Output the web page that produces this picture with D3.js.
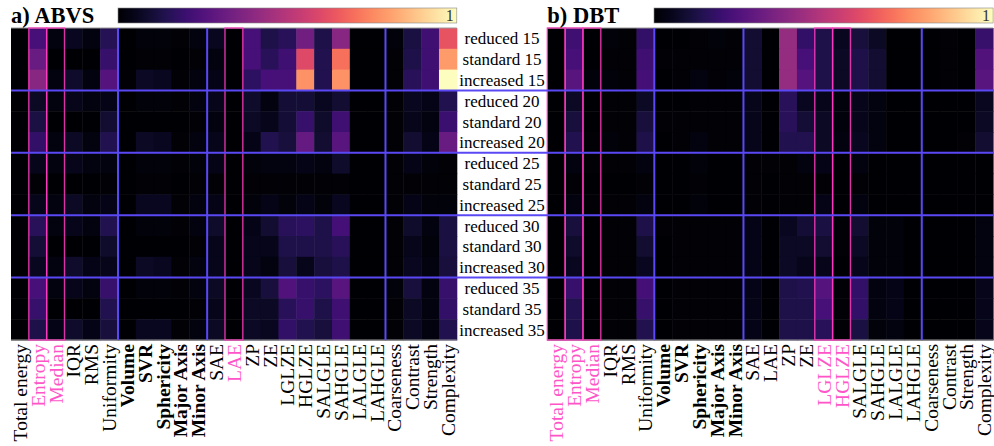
<!DOCTYPE html>
<html>
<head>
<meta charset="utf-8">
<script src="https://cdn.jsdelivr.net/npm/d3@7"></script>
<style>
  html, body { margin: 0; padding: 0; background: #fff; }
  svg { display: block; font-family: "Liberation Serif", "Times New Roman", serif; }
</style>
</head>
<body>
<svg id="chart" width="994" height="446"></svg>
<script>
// feature names (columns) and protocol rows
const features = ['Total energy', 'Entropy', 'Median', 'IQR', 'RMS', 'Uniformity',
  'Volume', 'SVR', 'Sphericity', 'Major Axis', 'Minor Axis',
  'SAE', 'LAE', 'ZP', 'ZE', 'LGLZE', 'HGLZE', 'SALGLE', 'SAHGLE', 'LALGLE', 'LAHGLE',
  'Coarseness', 'Contrast', 'Strength', 'Complexity'];
const boldFeatures = ['Volume', 'SVR', 'Sphericity', 'Major Axis', 'Minor Axis'];
const rowLabels = ['reduced 15', 'standard 15', 'increased 15',
  'reduced 20', 'standard 20', 'increased 20',
  'reduced 25', 'standard 25', 'increased 25',
  'reduced 30', 'standard 30', 'increased 30',
  'reduced 35', 'standard 35', 'increased 35'];
// features starting a new group get a blue separator
const groupStarts = ['Volume', 'SAE', 'Coarseness'];
const pinkA = ['Entropy', 'Median', 'LAE'];
const pinkB = ['Total energy', 'Entropy', 'Median', 'LGLZE', 'HGLZE'];

const abvs = [
  [0,.23,.03,.06,.03,.15,0,.02,.02,.01,.03,.06,0,.23,.13,.16,.33,.13,.39,0,0,.02,.12,.21,.63],
  [0,.31,0,0,0,.19,0,.01,.01,0,.01,.03,0,.23,.16,.21,.60,.14,.70,0,0,.01,.13,.21,.79],
  [0,.39,.03,.08,.03,.26,.01,.07,.06,.01,.03,.04,0,.17,.23,.23,.77,.14,.77,0,0,.01,.16,.21,1],
  [0,.07,.03,.05,.03,.04,0,.02,.02,.01,.03,.05,0,.08,.03,.10,.10,.06,.09,0,0,.01,.06,.04,.14],
  [0,.12,0,0,0,.09,0,0,0,0,.01,.03,0,.07,.05,.10,.19,.08,.21,0,0,.01,.05,.03,.20],
  [0,.18,.03,.07,.03,.14,0,.07,.06,.01,.03,.05,0,.04,.14,.11,.30,.09,.27,0,0,.01,.09,.04,.31],
  [0,.05,.03,.05,.03,.03,0,.02,.02,.01,.02,.04,0,.02,.03,.03,.04,.03,.08,0,0,.01,.04,.02,.01],
  [0,.01,0,0,0,.01,0,.01,.01,0,.01,.01,0,.01,.01,.01,.01,.01,.01,0,0,.01,.01,.01,.01],
  [0,.05,.03,.07,.03,.04,0,.06,.06,.01,.03,.04,0,.02,.04,.02,.04,.02,.06,0,0,.01,.04,.02,.02],
  [0,.16,.03,.05,.03,.14,0,.02,.02,.01,.03,.08,0,.04,.09,.16,.17,.13,.22,0,0,.01,.08,.03,.12],
  [0,.10,0,0,0,.08,0,0,0,0,.01,.05,0,.05,.05,.13,.13,.13,.16,0,0,.01,.05,.02,.12],
  [0,.06,.03,.08,.04,.05,0,.07,.06,.01,.03,.05,0,.05,.03,.11,.05,.11,.13,0,0,.01,.06,.03,.11],
  [0,.23,.03,.05,.03,.19,0,.02,.02,.01,.03,.07,0,.06,.11,.25,.19,.17,.27,0,0,.02,.11,.03,.19],
  [0,.19,0,0,0,.14,0,0,0,0,.01,.05,0,.07,.07,.16,.19,.13,.21,0,0,.01,.07,.03,.18],
  [0,.13,.04,.08,.04,.11,0,.06,.06,.01,.03,.07,0,.07,.06,.18,.14,.11,.21,0,0,.01,.07,.03,.14]
];

const dbt = [
  [0,.21,0,.02,.01,.18,0,0,.01,.02,.01,.09,0,.42,.18,.13,.06,.11,.07,0,0,0,.01,0,.19],
  [0,.23,0,.01,.01,.21,.01,.01,.01,.01,.01,.09,0,.42,.23,.13,.07,.13,.09,0,0,0,.01,0,.25],
  [0,.27,.02,.02,.01,.22,0,.01,.03,.01,.02,.09,0,.42,.26,.13,.07,.13,.09,0,0,0,.01,0,.27],
  [0,.07,0,.01,.01,.07,0,0,.01,.01,.01,.05,0,.16,.06,.05,.02,.05,.03,0,0,0,0,0,.06],
  [0,.11,0,.01,.01,.11,.01,.01,.01,.01,.01,.05,0,.16,.10,.07,.02,.05,.03,0,0,0,0,0,.07],
  [0,.14,.01,.02,.01,.13,0,.01,.03,.01,.01,.05,0,.14,.14,.07,.03,.06,.03,0,0,0,0,.01,.09],
  [0,.03,.01,.01,.01,.03,0,0,.02,0,0,.01,.01,.01,.03,.04,0,.03,0,0,0,0,0,0,0],
  [0,.01,0,0,0,.01,0,0,.01,0,0,.01,0,.01,.01,.01,0,.01,0,0,0,0,0,0,0],
  [0,.03,.01,.01,.01,.03,0,0,.02,0,0,.01,0,.01,.01,.04,0,.03,0,0,0,0,0,0,0],
  [0,.11,0,.01,.01,.13,.01,.01,.01,.01,.01,.04,0,.06,.10,.12,.01,.09,.02,.02,0,0,0,0,.03],
  [0,.08,0,.01,.01,.09,0,.01,.01,.01,.01,.04,0,.07,.07,.09,.01,.07,.02,.02,0,0,0,0,.03],
  [0,.06,0,.01,.01,.06,0,.01,.01,.01,.01,.04,0,.07,.05,.05,0,.05,.02,.02,0,0,0,0,.03],
  [0,.19,0,.01,.01,.22,0,.01,.01,.01,.01,.04,0,.13,.14,.26,.01,.18,.03,.04,0,0,0,0,.05],
  [0,.14,0,.01,.01,.19,0,.01,.01,.01,.01,.04,0,.13,.13,.23,.01,.18,.03,.04,0,0,0,0,.05],
  [0,.13,0,.01,.01,.14,0,.01,.01,.01,.01,.04,0,.13,.13,.16,.01,.12,.02,.03,0,0,0,0,.05]
];

const svg = d3.select('#chart');
const yTop = 28, yBottom = 340;
const blue = '#5a48f5';
const pink = '#ff3cbf';
const pinkText = '#ff55c8';
const color = d3.scaleSequential(d3.interpolateMagma).domain([0, 1]);

const y = d3.scaleBand()
  .domain(rowLabels)
  .range([yTop, yBottom]);

// gradient for both colorbars
const grad = svg.append('defs').append('linearGradient')
  .attr('id', 'magma');
d3.range(0, 1.0001, 0.05).forEach(t => {
  grad.append('stop')
    .attr('offset', (t * 100) + '%')
    .attr('stop-color', color(t));
});

function drawPanel(data, left, right, title, barLeft, pinkCols) {
  const x = d3.scaleBand()
    .domain(features)
    .range([left, right]);
  const g = svg.append('g');

  data.forEach((row, i) => {
    g.selectAll(null)
      .data(row)
      .enter().append('rect')
      .attr('x', (d, j) => x(features[j]))
      .attr('y', y(rowLabels[i]))
      .attr('width', x.bandwidth() + 0.5)
      .attr('height', y.bandwidth() + 0.5)
      .attr('fill', d => color(d));
  });

  // frame top and bottom
  g.append('line')
    .attr('x1', left).attr('x2', right)
    .attr('y1', yTop).attr('y2', yTop)
    .attr('stroke', '#999').attr('stroke-width', 1);
  g.append('line')
    .attr('x1', left).attr('x2', right)
    .attr('y1', yBottom).attr('y2', yBottom)
    .attr('stroke', '#999').attr('stroke-width', 1.2);

  // group separators
  groupStarts.forEach(f => {
    g.append('line')
      .attr('x1', x(f)).attr('x2', x(f))
      .attr('y1', yTop).attr('y2', yBottom)
      .attr('stroke', blue)
      .attr('stroke-width', 2);
  });

  // highlighted features
  pinkCols.forEach(f => {
    g.append('rect')
      .attr('x', x(f))
      .attr('y', yTop)
      .attr('width', x.bandwidth())
      .attr('height', yBottom - yTop)
      .attr('fill', 'none')
      .attr('stroke', pink)
      .attr('stroke-opacity', 0.85)
      .attr('stroke-width', 1.4);
  });

  // feature labels
  g.selectAll(null)
    .data(features)
    .enter().append('text')
    .attr('transform', d => `translate(${x(d) + x.bandwidth() / 2},344) rotate(-90)`)
    .attr('dy', '0.36em')
    .attr('text-anchor', 'end')
    .attr('font-size', '19.5px')
    .attr('font-weight', d => boldFeatures.includes(d) ? 'bold' : 'normal')
    .attr('fill', d => pinkCols.includes(d) ? pinkText : '#000')
    .text(d => d);

  // title
  g.append('text')
    .attr('x', left)
    .attr('y', 23)
    .attr('font-size', '22.5px')
    .attr('font-weight', 'bold')
    .text(title);

  // colorbar
  g.append('rect')
    .attr('x', barLeft)
    .attr('y', 8)
    .attr('width', right - barLeft)
    .attr('height', 15)
    .attr('fill', 'url(#magma)')
    .attr('stroke', '#888')
    .attr('stroke-width', 0.6);
  g.append('text')
    .attr('x', right - 3)
    .attr('y', 21)
    .attr('text-anchor', 'end')
    .attr('font-size', '16px')
    .attr('fill', '#333')
    .text('1');
}

drawPanel(abvs, 11, 456.8, 'a) ABVS', 118, pinkA);
drawPanel(dbt, 547.3, 993.1, 'b) DBT', 654, pinkB);

// row labels in the middle
svg.append('g')
  .selectAll('text')
  .data(rowLabels)
  .enter().append('text')
  .attr('x', 502)
  .attr('y', d => y(d) + y.bandwidth() / 2)
  .attr('dy', '0.35em')
  .attr('text-anchor', 'middle')
  .attr('font-size', '17px')
  .text(d => d);

// protocol group separators across both panels
d3.range(3, rowLabels.length, 3).forEach(i => {
  svg.append('line')
    .attr('x1', 11).attr('x2', 994)
    .attr('y1', y(rowLabels[i])).attr('y2', y(rowLabels[i]))
    .attr('stroke', blue)
    .attr('stroke-width', 2);
});
</script>
</body>
</html>
